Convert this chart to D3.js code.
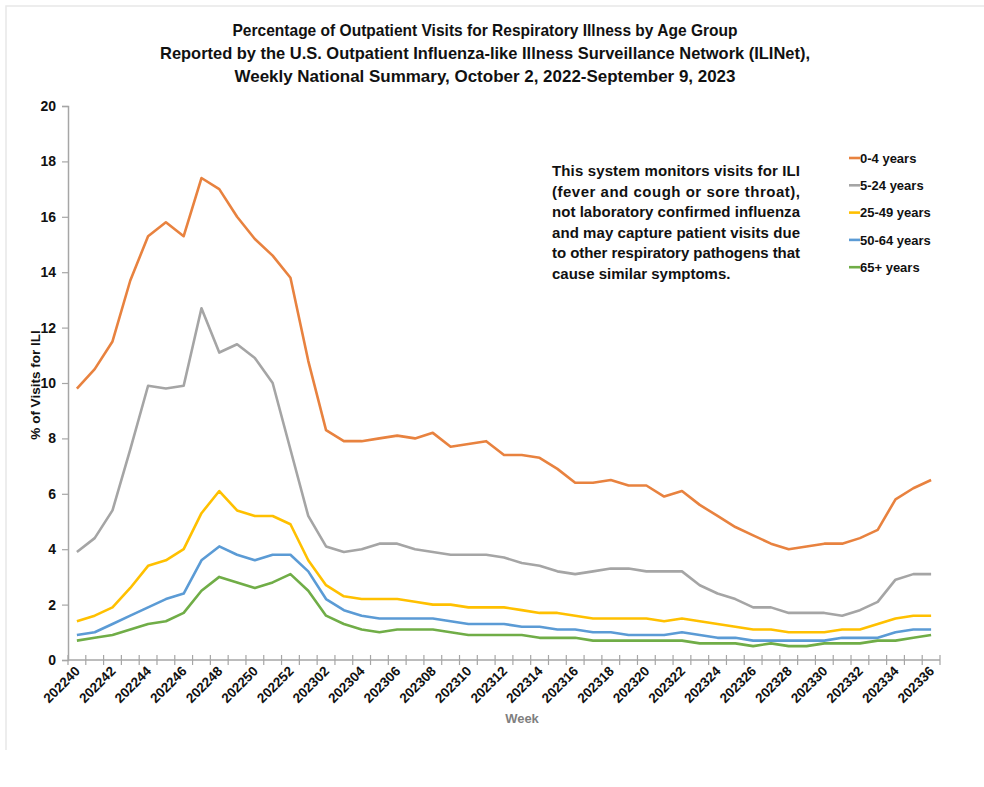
<!DOCTYPE html>
<html>
<head>
<meta charset="utf-8">
<script src="https://cdn.jsdelivr.net/npm/d3@7"></script>
<style>
  body { margin: 0; background: #fff; }
  svg { display: block; }
  .title { font-family: "Liberation Sans Narrow", "Liberation Sans", sans-serif; font-weight: bold; font-size: 17px; fill: #111; }
  .note { font-family: "Liberation Sans Narrow", "Liberation Sans", sans-serif; font-weight: bold; font-size: 15px; fill: #111; }
  .tick-label { font-family: "Liberation Sans", Arial, sans-serif; font-weight: bold; fill: #111; }
</style>
</head>
<body>
<div id="chart"></div>
<script>
// weeks 202240 .. 202252, 202301 .. 202336
const weeks = d3.range(40, 53).map(w => `2022${w}`)
  .concat(d3.range(1, 37).map(w => `2023${String(w).padStart(2, '0')}`));

const ageGroups = ['0-4 years', '5-24 years', '25-49 years', '50-64 years', '65+ years'];
const colors = ['#E8823F', '#A5A5A5', '#FFC000', '#5B9BD5', '#70AD47'];

const age0to4 = [9.8, 10.5, 11.5, 13.7, 15.3, 15.8, 15.3, 17.4, 17.0, 16.0, 15.2, 14.6, 13.8,
  10.8, 8.3, 7.9, 7.9, 8.0, 8.1, 8.0, 8.2, 7.7, 7.8, 7.9, 7.4, 7.4, 7.3, 6.9, 6.4, 6.4, 6.5, 6.3,
  6.3, 5.9, 6.1, 5.6, 5.2, 4.8, 4.5, 4.2, 4.0, 4.1, 4.2, 4.2, 4.4, 4.7, 5.8, 6.2, 6.5];
const age5to24 = [3.9, 4.4, 5.4, 7.6, 9.9, 9.8, 9.9, 12.7, 11.1, 11.4, 10.9, 10.0, 7.6,
  5.2, 4.1, 3.9, 4.0, 4.2, 4.2, 4.0, 3.9, 3.8, 3.8, 3.8, 3.7, 3.5, 3.4, 3.2, 3.1, 3.2, 3.3, 3.3,
  3.2, 3.2, 3.2, 2.7, 2.4, 2.2, 1.9, 1.9, 1.7, 1.7, 1.7, 1.6, 1.8, 2.1, 2.9, 3.1, 3.1];
const age25to49 = [1.4, 1.6, 1.9, 2.6, 3.4, 3.6, 4.0, 5.3, 6.1, 5.4, 5.2, 5.2, 4.9,
  3.6, 2.7, 2.3, 2.2, 2.2, 2.2, 2.1, 2.0, 2.0, 1.9, 1.9, 1.9, 1.8, 1.7, 1.7, 1.6, 1.5, 1.5, 1.5,
  1.5, 1.4, 1.5, 1.4, 1.3, 1.2, 1.1, 1.1, 1.0, 1.0, 1.0, 1.1, 1.1, 1.3, 1.5, 1.6, 1.6];
const age50to64 = [0.9, 1.0, 1.3, 1.6, 1.9, 2.2, 2.4, 3.6, 4.1, 3.8, 3.6, 3.8, 3.8,
  3.2, 2.2, 1.8, 1.6, 1.5, 1.5, 1.5, 1.5, 1.4, 1.3, 1.3, 1.3, 1.2, 1.2, 1.1, 1.1, 1.0, 1.0, 0.9,
  0.9, 0.9, 1.0, 0.9, 0.8, 0.8, 0.7, 0.7, 0.7, 0.7, 0.7, 0.8, 0.8, 0.8, 1.0, 1.1, 1.1];
const age65plus = [0.7, 0.8, 0.9, 1.1, 1.3, 1.4, 1.7, 2.5, 3.0, 2.8, 2.6, 2.8, 3.1,
  2.5, 1.6, 1.3, 1.1, 1.0, 1.1, 1.1, 1.1, 1.0, 0.9, 0.9, 0.9, 0.9, 0.8, 0.8, 0.8, 0.7, 0.7, 0.7,
  0.7, 0.7, 0.7, 0.6, 0.6, 0.6, 0.5, 0.6, 0.5, 0.5, 0.6, 0.6, 0.6, 0.7, 0.7, 0.8, 0.9];

const yTicks = [0, 2, 4, 6, 8, 10, 12, 14, 16, 18, 20];

const titleLines = [
  'Percentage of Outpatient Visits for Respiratory Illness by Age Group',
  'Reported by the U.S. Outpatient Influenza-like Illness Surveillance Network (ILINet),',
  'Weekly National Summary, October 2, 2022-September 9, 2023',
];
const noteLines = [
  'This system monitors visits for ILI',
  '(fever and cough or sore throat),',
  'not laboratory confirmed influenza',
  'and may capture patient visits due',
  'to other respiratory pathogens that',
  'cause similar symptoms.',
];

const series = [age0to4, age5to24, age25to49, age50to64, age65plus];

const width = 984;
const height = 787;
const plot = { left: 68, right: 940, top: 106, bottom: 660 };

const svg = d3.select('#chart').append('svg')
  .attr('width', width)
  .attr('height', height);

// faint frame of the original screenshot
svg.append('path')
  .attr('d', 'M6,750 V6 H984')
  .style('fill', 'none')
  .style('stroke', '#e8e8e8')
  .style('stroke-width', 1.5);

const x = d3.scaleBand()
  .domain(weeks)
  .range([plot.left, plot.right]);

const y = d3.scaleLinear()
  .domain([0, 20])
  .range([plot.bottom, plot.top]);

const axisColor = '#a6a6a6';

// y axis
const yAxis = svg.append('g')
  .attr('transform', `translate(${plot.left},0)`)
  .call(d3.axisLeft(y).tickValues(yTicks).tickSize(6).tickPadding(6));
yAxis.select('.domain').style('stroke', axisColor).style('stroke-width', 1.5);
yAxis.selectAll('.tick line').style('stroke', axisColor).style('stroke-width', 1.2);
yAxis.selectAll('.tick text')
  .attr('class', 'tick-label')
  .style('font-size', '14px');

// x axis: ticks at week boundaries, labels every other week
const boundaries = weeks.map(w => x(w)).concat([plot.right]);
const xAxis = svg.append('g');
xAxis.append('line')
  .attr('x1', plot.left).attr('x2', plot.right)
  .attr('y1', plot.bottom).attr('y2', plot.bottom)
  .style('stroke', axisColor).style('stroke-width', 1.5);
xAxis.selectAll('.xtick')
  .data(boundaries)
  .enter().append('line')
  .attr('class', 'xtick')
  .attr('x1', d => d).attr('x2', d => d)
  .attr('y1', plot.bottom - 5).attr('y2', plot.bottom + 5)
  .style('stroke', axisColor).style('stroke-width', 1.2);
xAxis.selectAll('.xlabel')
  .data(weeks.filter((w, i) => i % 2 === 0))
  .enter().append('text')
  .attr('class', 'tick-label')
  .attr('transform', d => `translate(${x(d) + x.bandwidth() / 2 + 4},${plot.bottom + 12}) rotate(-45)`)
  .style('font-size', '13.5px')
  .style('text-anchor', 'end')
  .text(d => d);

svg.append('text')
  .attr('x', 522)
  .attr('y', 723)
  .style('font-family', '"Liberation Sans", Arial, sans-serif')
  .style('font-weight', 'bold')
  .style('font-size', '13px')
  .style('fill', '#7f7f7f')
  .style('text-anchor', 'middle')
  .text('Week');

svg.append('text')
  .attr('transform', `translate(40,${(plot.top + plot.bottom) / 2 + 2}) rotate(-90)`)
  .style('font-family', '"Liberation Sans", Arial, sans-serif')
  .style('font-weight', 'bold')
  .style('font-size', '13.5px')
  .style('fill', '#111')
  .style('text-anchor', 'middle')
  .text('% of Visits for ILI');

// lines
const line = d3.line()
  .x((d, i) => x(weeks[i]) + x.bandwidth() / 2)
  .y(d => y(d));

svg.selectAll('.series')
  .data(series)
  .enter().append('path')
  .attr('class', 'series')
  .attr('d', line)
  .style('fill', 'none')
  .style('stroke', (d, i) => colors[i])
  .style('stroke-width', 2.6)
  .style('stroke-linejoin', 'round');

// title, squeezed to the narrow face of the original
const titleWidths = [505, 650, 501];
svg.selectAll('.title')
  .data(titleLines)
  .enter().append('text')
  .attr('class', 'title')
  .attr('x', (d, i) => 485 - titleWidths[i] / 2)
  .attr('y', (d, i) => 36 + i * 23)
  .attr('textLength', (d, i) => titleWidths[i])
  .attr('lengthAdjust', 'spacingAndGlyphs')
  .text(d => d);

// note, justified
svg.selectAll('.note')
  .data(noteLines)
  .enter().append('text')
  .attr('class', 'note')
  .attr('x', 552)
  .attr('y', (d, i) => 176 + i * 20.6)
  .each(function (d, i) {
    if (i < noteLines.length - 1) {
      d3.select(this).attr('textLength', 248).attr('lengthAdjust', 'spacing');
    }
  })
  .text(d => d);

// legend
const legend = svg.selectAll('.legend')
  .data(ageGroups)
  .enter().append('g')
  .attr('class', 'legend')
  .attr('transform', (d, i) => `translate(849,${158 + i * 27.3})`);
legend.append('line')
  .attr('x1', 0).attr('x2', 11)
  .style('stroke', (d, i) => colors[i])
  .style('stroke-width', 2.6);
legend.append('text')
  .attr('x', 11)
  .attr('dy', '0.36em')
  .style('font-family', '"Liberation Sans", Arial, sans-serif')
  .style('font-weight', 'bold')
  .style('font-size', '13px')
  .style('fill', '#111')
  .text(d => d);
</script>
</body>
</html>
